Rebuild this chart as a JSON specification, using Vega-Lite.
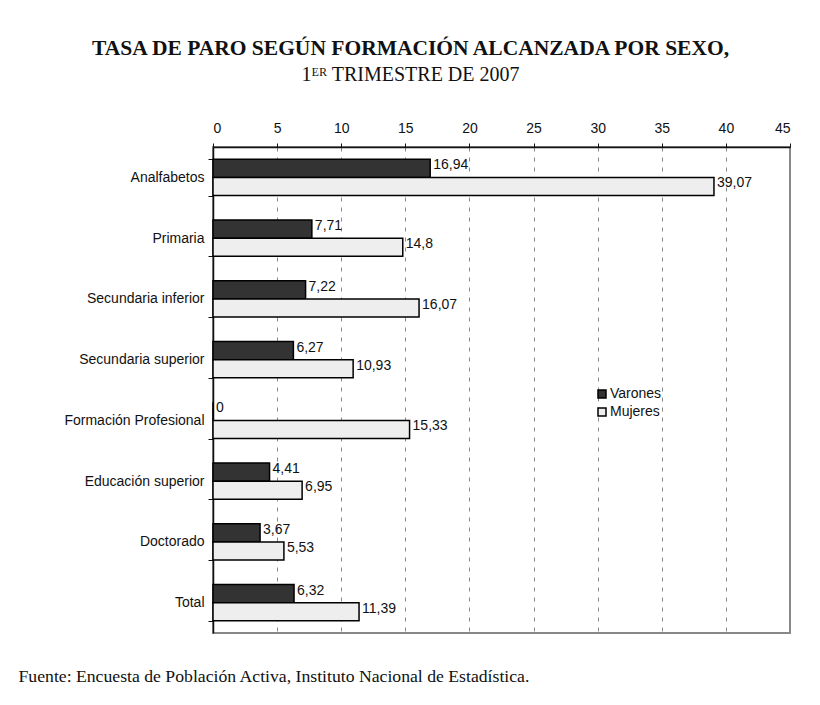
{
  "$schema": "https://vega.github.io/schema/vega-lite/v6.json",
  "width": 577,
  "height": 486,
  "autosize": "none",
  "padding": {"left": 213, "top": 147, "right": 30, "bottom": 72},
  "background": "white",
  "title": {
    "text": "TASA DE PARO SEGÚN FORMACIÓN ALCANZADA POR SEXO,",
    "subtitle": "1ᴱᴿ TRIMESTRE DE 2007",
    "anchor": "middle",
    "frame": "group",
    "dx": -91,
    "offset": 36,
    "font": "Liberation Serif",
    "fontSize": 21.5,
    "fontWeight": "bold",
    "color": "#111",
    "subtitleFont": "Liberation Serif",
    "subtitleFontSize": 20,
    "subtitleColor": "#111",
    "subtitlePadding": 6
  },
  "config": {
    "locale": {"number": {"decimal": ",", "thousands": ".", "grouping": [3], "currency": ["", " €"]}},
    "view": {"stroke": "#888", "strokeWidth": 2},
    "axis": {"labelFont": "Liberation Sans", "labelFontSize": 14, "labelColor": "#111", "domainColor": "#111", "tickColor": "#111"}
  },
  "data": {
    "values": [
      {"categoria": "Analfabetos", "sexo": "Varones", "valor": 16.94},
      {"categoria": "Analfabetos", "sexo": "Mujeres", "valor": 39.07},
      {"categoria": "Primaria", "sexo": "Varones", "valor": 7.71},
      {"categoria": "Primaria", "sexo": "Mujeres", "valor": 14.8},
      {"categoria": "Secundaria inferior", "sexo": "Varones", "valor": 7.22},
      {"categoria": "Secundaria inferior", "sexo": "Mujeres", "valor": 16.07},
      {"categoria": "Secundaria superior", "sexo": "Varones", "valor": 6.27},
      {"categoria": "Secundaria superior", "sexo": "Mujeres", "valor": 10.93},
      {"categoria": "Formación Profesional", "sexo": "Varones", "valor": 0},
      {"categoria": "Formación Profesional", "sexo": "Mujeres", "valor": 15.33},
      {"categoria": "Educación superior", "sexo": "Varones", "valor": 4.41},
      {"categoria": "Educación superior", "sexo": "Mujeres", "valor": 6.95},
      {"categoria": "Doctorado", "sexo": "Varones", "valor": 3.67},
      {"categoria": "Doctorado", "sexo": "Mujeres", "valor": 5.53},
      {"categoria": "Total", "sexo": "Varones", "valor": 6.32},
      {"categoria": "Total", "sexo": "Mujeres", "valor": 11.39}
    ]
  },
  "encoding": {
    "y": {
      "field": "categoria",
      "type": "nominal",
      "sort": null,
      "scale": {"paddingInner": 0.4, "paddingOuter": 0.2},
      "axis": {"title": null, "tickBand": "extent", "tickSize": 5, "labelPadding": 4, "domainWidth": 1.5, "grid": false}
    },
    "yOffset": {"field": "sexo", "type": "nominal", "sort": ["Varones", "Mujeres"]}
  },
  "layer": [
    {
      "mark": {"type": "bar", "stroke": "#000", "strokeWidth": 1.5},
      "encoding": {
        "x": {
          "field": "valor",
          "type": "quantitative",
          "scale": {"domain": [0, 45], "nice": false},
          "axis": {"orient": "top", "title": null, "values": [0, 5, 10, 15, 20, 25, 30, 35, 40, 45], "grid": true, "gridDash": [4, 6], "gridColor": "#888", "tickSize": 4, "labelPadding": 8, "domainWidth": 1.5}
        },
        "fill": {
          "field": "sexo",
          "type": "nominal",
          "sort": ["Varones", "Mujeres"],
          "scale": {"domain": ["Varones", "Mujeres"], "range": ["#333333", "#eeeeee"]},
          "legend": {"title": null, "orient": "none", "legendX": 382, "legendY": 240, "symbolType": "square", "symbolSize": 64, "symbolStrokeColor": "#000", "symbolStrokeWidth": 1.5, "labelFont": "Liberation Sans", "labelFontSize": 14, "labelColor": "#111", "rowPadding": 4, "labelOffset": 1}
        }
      }
    },
    {
      "mark": {"type": "text", "align": "left", "baseline": "middle", "dx": 3, "dy": -3, "font": "Liberation Sans", "fontSize": 14, "fill": "#111"},
      "encoding": {
        "x": {
          "field": "valor",
          "type": "quantitative",
          "axis": {"orient": "bottom", "labels": false, "ticks": false, "domain": false, "grid": false,
            "title": "Fuente: Encuesta de Población Activa, Instituto Nacional de Estadística.",
            "titleFont": "Liberation Serif", "titleFontSize": 17.7, "titleFontWeight": "normal", "titleColor": "#111",
            "titleX": -195, "titleY": 48, "titleAlign": "left", "titleBaseline": "alphabetic"}
        },
        "text": {"field": "valor", "type": "quantitative", "format": "~r"}
      }
    }
  ],
  "resolve": {"axis": {"x": "independent"}}
}
